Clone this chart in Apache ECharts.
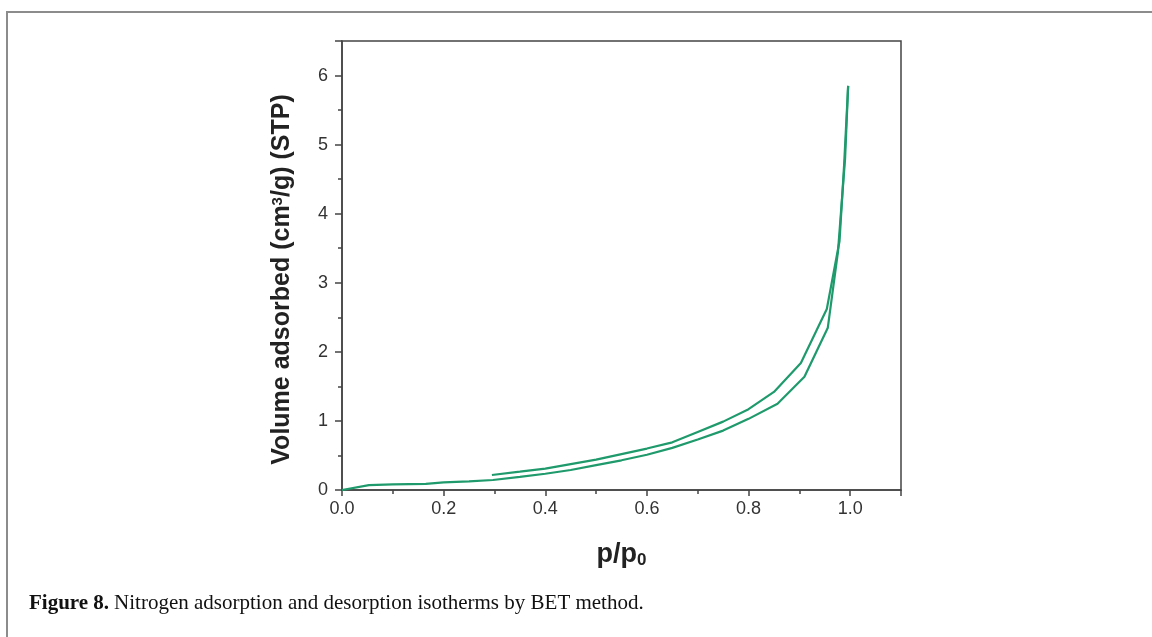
<!DOCTYPE html>
<html>
<head>
<meta charset="utf-8">
<script src="https://cdn.jsdelivr.net/npm/echarts@6/dist/echarts.min.js"></script>
<style>
  html, body { margin: 0; padding: 0; background: #fff; }
  #chart { width: 1152px; height: 637px; }
</style>
</head>
<body>
<div id="chart"></div>
<script>
// Nitrogen isotherm, relative pressure p/p0 vs adsorbed volume (cm3/g STP)
const adsorptionP = [0, 0.053, 0.10, 0.165, 0.20, 0.25, 0.297, 0.35, 0.40, 0.45, 0.50, 0.55, 0.60, 0.65, 0.70, 0.75, 0.80, 0.857, 0.91, 0.956, 0.976, 0.99, 0.996];
const adsorptionV = [0, 0.07, 0.08, 0.088, 0.11, 0.125, 0.145, 0.19, 0.235, 0.29, 0.36, 0.43, 0.51, 0.61, 0.73, 0.86, 1.03, 1.25, 1.64, 2.35, 3.45, 4.8, 5.85];

const desorptionP = [0.996, 0.988, 0.979, 0.954, 0.903, 0.85, 0.80, 0.75, 0.70, 0.65, 0.60, 0.55, 0.50, 0.45, 0.40, 0.35, 0.295];
const desorptionV = [5.85, 4.7, 3.6, 2.62, 1.84, 1.42, 1.17, 0.99, 0.84, 0.69, 0.60, 0.52, 0.44, 0.375, 0.31, 0.265, 0.217];

const xTickLabels = ['0.0', '0.2', '0.4', '0.6', '0.8', '1.0'];
const captionBold = 'Figure 8.';
const captionText = 'Nitrogen adsorption and desorption isotherms by BET method.';

const lineColor = '#1f9a6c';
const axisColor = '#444';

function pairs(xs, ys) {
  return xs.map((x, i) => [x, ys[i]]);
}

const chart = echarts.init(document.getElementById('chart'), null, { renderer: 'canvas' });

chart.setOption({
  backgroundColor: '#fff',
  animation: false,
  title: {
    text: '{b|' + captionBold + '} {r|' + captionText + '}',
    left: 24,
    top: 588,
    textStyle: {
      rich: {
        b: { fontFamily: 'Liberation Serif', fontWeight: 'bold', fontSize: 21, color: '#111' },
        r: { fontFamily: 'Liberation Serif', fontWeight: 'normal', fontSize: 21, color: '#111' }
      }
    }
  },
  graphic: [{
    type: 'polyline',
    silent: true,
    shape: { points: [[7, 637], [7, 12], [1152, 12]] },
    style: { stroke: '#8c8c8c', lineWidth: 2, fill: null }
  }],
  grid: {
    left: 342, top: 41, right: 251, bottom: 147,
    show: true, borderColor: axisColor, borderWidth: 1.5,
    containLabel: false
  },
  xAxis: {
    type: 'value',
    min: 0, max: 1.1, interval: 0.2,
    name: '{a|p/p}{s|0}',
    nameLocation: 'middle',
    nameGap: 50,
    nameTextStyle: {
      rich: {
        a: { fontFamily: 'Liberation Sans', fontWeight: 'bold', fontSize: 27, color: '#222' },
        s: { fontFamily: 'Liberation Sans', fontWeight: 'bold', fontSize: 17, color: '#222', verticalAlign: 'bottom', padding: [12, 0, 0, 0] }
      }
    },
    axisLine: { onZero: false, lineStyle: { color: axisColor, width: 1.5 } },
    axisTick: { inside: false, length: 6, lineStyle: { color: axisColor, width: 1.5 } },
    minorTick: { show: true, splitNumber: 2, length: 4, lineStyle: { color: axisColor, width: 1.5 } },
    splitLine: { show: false },
    axisLabel: {
      margin: 10,
      fontFamily: 'Liberation Sans', fontSize: 18, color: '#333',
      formatter: v => {
        const i = Math.round(v / 0.2);
        return Math.abs(v - i * 0.2) < 1e-6 && i < xTickLabels.length ? xTickLabels[i] : '';
      }
    }
  },
  yAxis: {
    type: 'value',
    min: 0, max: 6.5, interval: 1,
    name: '{a|Volume adsorbed (cm}{s|3}{a|/g) (STP)}',
    nameLocation: 'middle',
    nameGap: 47,
    nameTextStyle: {
      padding: [0, 28, 0, 0],
      rich: {
        a: { fontFamily: 'Liberation Sans', fontWeight: 'bold', fontSize: 25, color: '#222' },
        s: { fontFamily: 'Liberation Sans', fontWeight: 'bold', fontSize: 15, color: '#222', verticalAlign: 'top', padding: [0, 0, 10, 0] }
      }
    },
    axisLine: { lineStyle: { color: axisColor, width: 1.5 } },
    axisTick: { inside: false, length: 7, lineStyle: { color: axisColor, width: 1.5 } },
    minorTick: { show: true, splitNumber: 2, length: 4, lineStyle: { color: axisColor, width: 1.5 } },
    splitLine: { show: false },
    axisLabel: {
      margin: 14,
      fontFamily: 'Liberation Sans', fontSize: 18, color: '#333',
      showMaxLabel: false
    }
  },
  series: [
    {
      name: 'Adsorption',
      type: 'line',
      data: pairs(adsorptionP, adsorptionV),
      showSymbol: false,
      lineStyle: { color: lineColor, width: 2.2 },
      itemStyle: { color: lineColor }
    },
    {
      name: 'Desorption',
      type: 'line',
      data: pairs(desorptionP, desorptionV),
      showSymbol: false,
      lineStyle: { color: lineColor, width: 2.2 },
      itemStyle: { color: lineColor }
    }
  ]
});
</script>
</body>
</html>
